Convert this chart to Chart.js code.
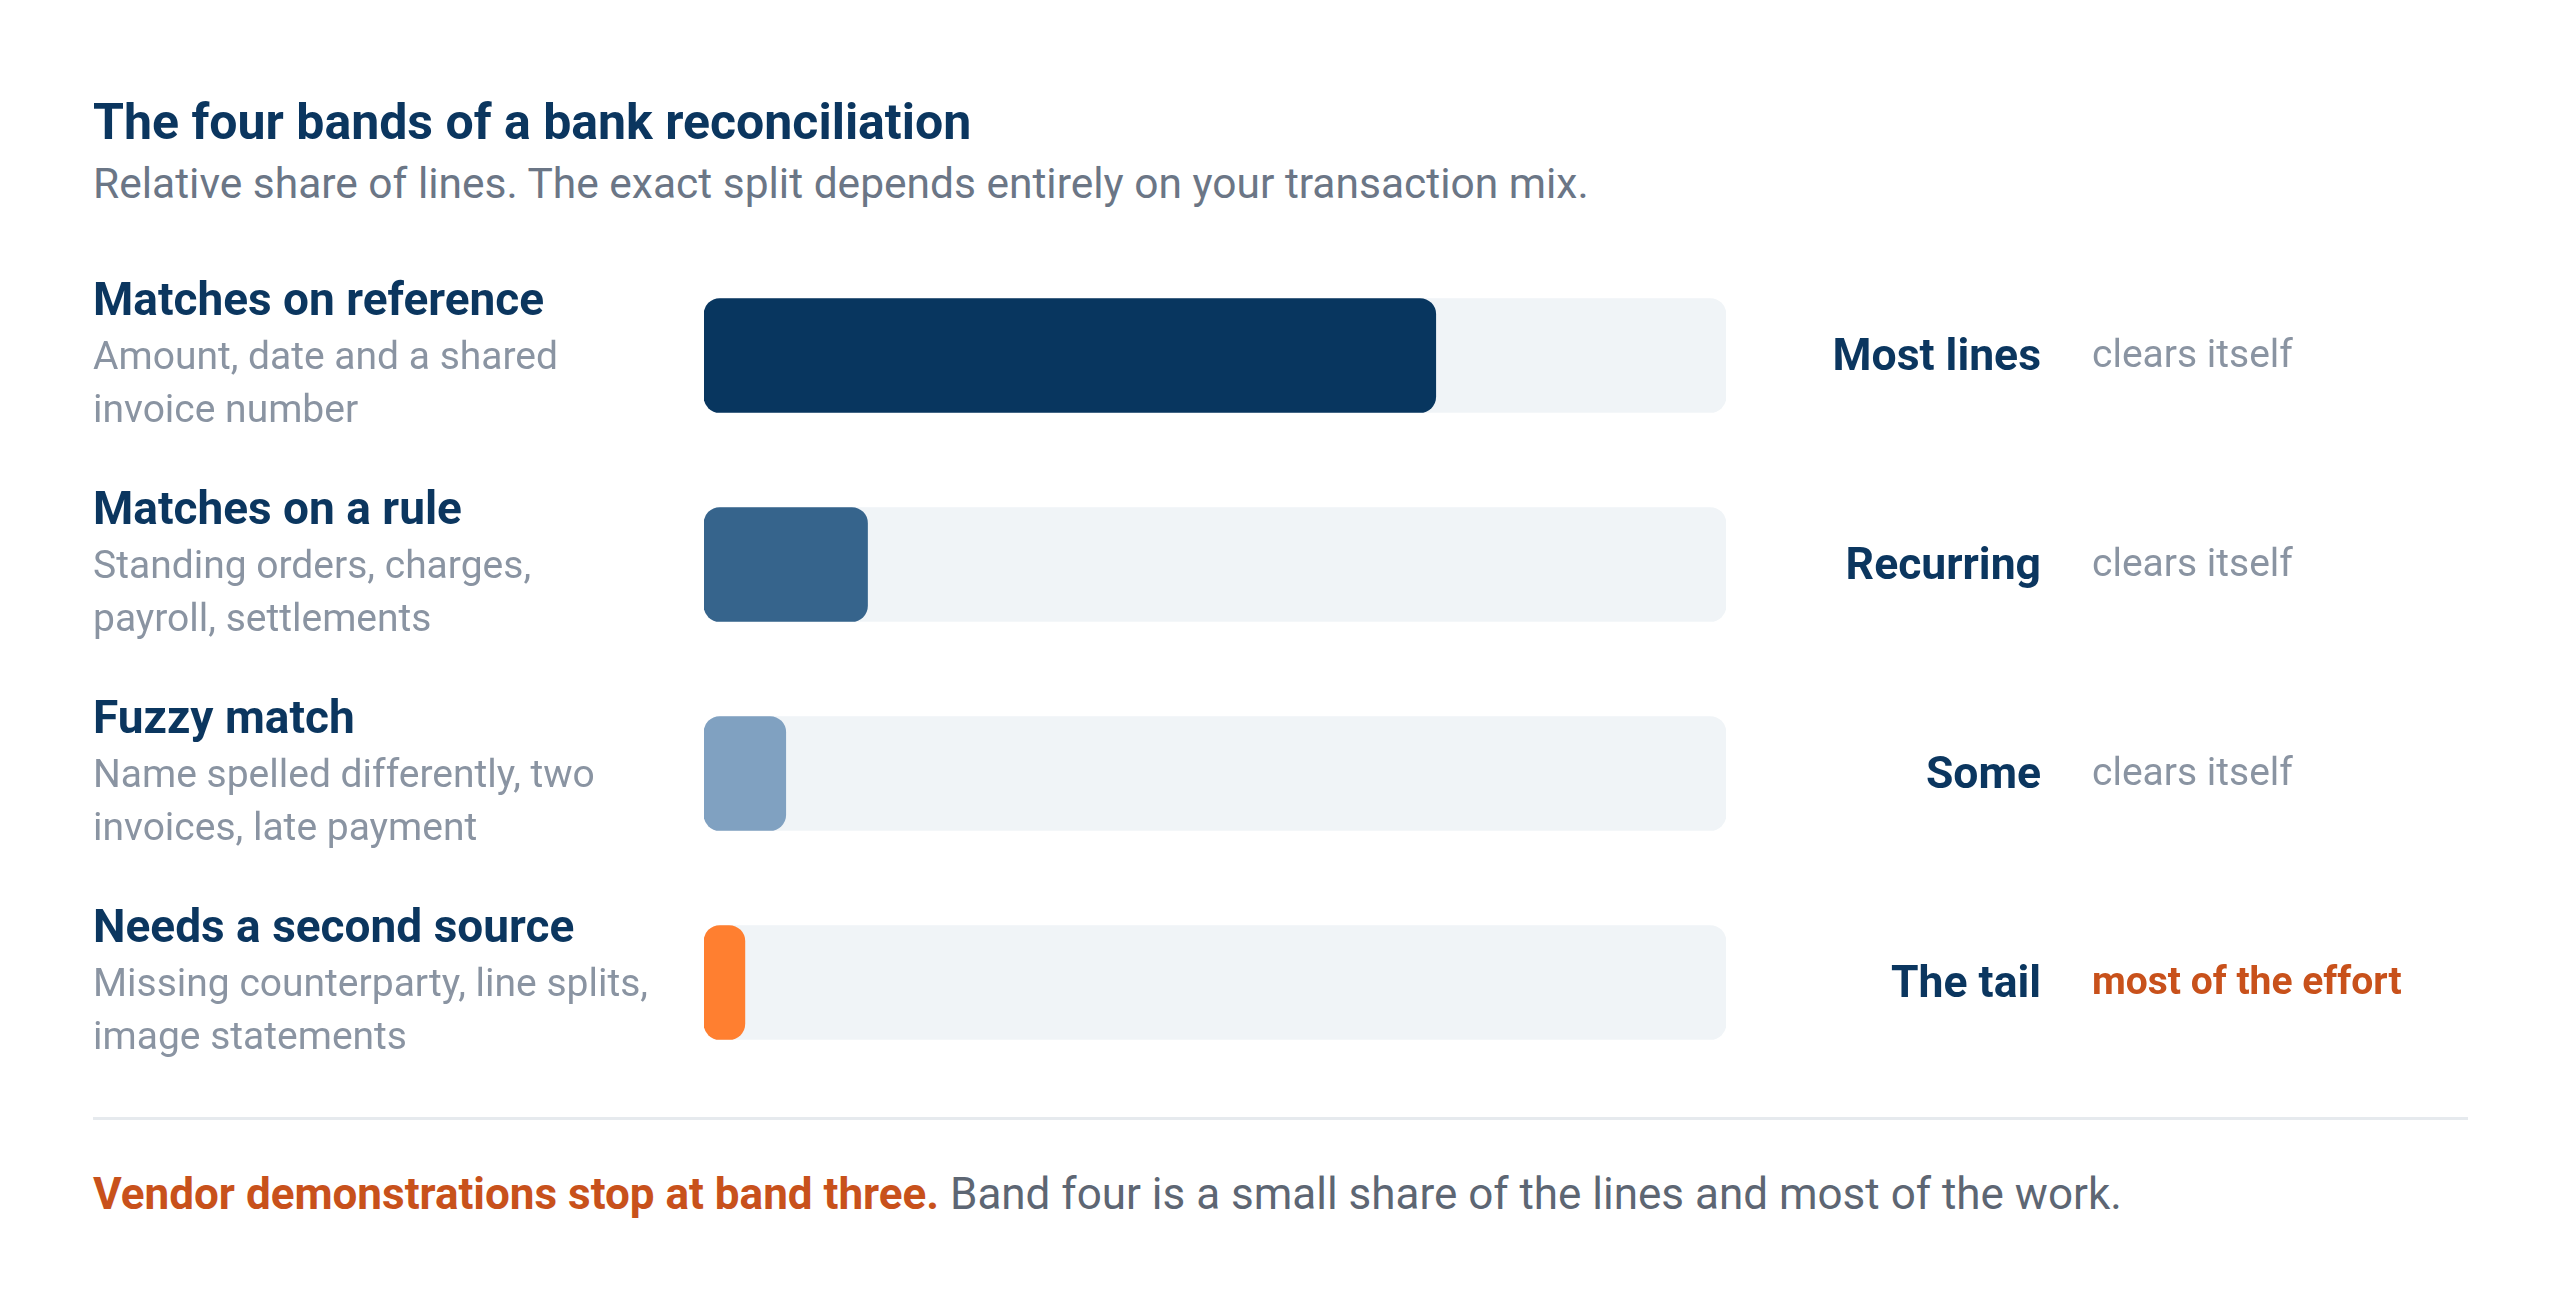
<!DOCTYPE html>
<html><head><meta charset="utf-8">
<script src="https://cdn.jsdelivr.net/npm/chart.js@4"></script>
<style>
html,body{margin:0;padding:0;background:#fff;width:2560px;height:1312px;overflow:hidden;font-family:Roboto,"Noto Sans",sans-serif}
.t{position:absolute;left:93px;white-space:nowrap;line-height:1}
#title{top:97px;font-size:50px;font-weight:700;color:#0b365f}
#sub{top:163px;font-size:42.5px;color:#6b7686}
#rule{position:absolute;left:93px;top:1117px;width:2375px;height:3px;background:#e6eaee}
#foot{top:1172px;font-size:44px;color:#5d6673}
#foot b{color:#c8511b}
#wrap{position:absolute;left:0;top:251px;width:2560px;height:836px}
</style></head><body>
<div class="t" id="title">The four bands of a bank reconciliation</div>
<div class="t" id="sub">Relative share of lines. The exact split depends entirely on your transaction mix.</div>
<div id="wrap"><canvas id="c"></canvas></div>
<div id="rule"></div>
<div class="t" id="foot"><b>Vendor demonstrations stop at band three.</b> Band four is a small share of the lines and most of the work.</div>
<script>
const categories = ["Matches on reference","Matches on a rule","Fuzzy match","Needs a second source"];
const descriptions = [["Amount, date and a shared","invoice number"],["Standing orders, charges,","payroll, settlements"],["Name spelled differently, two","invoices, late payment"],["Missing counterparty, line splits,","image statements"]];
const shares = [71.6,16,8,4];
const trackValues = [100,100,100,100];
const volumeLabels = ["Most lines","Recurring","Some","The tail"];
const effortLabels = ["clears itself","clears itself","clears itself","most of the effort"];
const barColors = ["#08365f","#36648c","#80a1c1","#ff7f30"];

const F = 'Roboto, "Noto Sans", sans-serif';
const textPlugin = {
  id:'rowText',
  afterDatasetsDraw(chart){
    const {ctx, scales:{y}} = chart;
    ctx.save();
    ctx.textBaseline='middle';
    categories.forEach((c,i)=>{
      const yc = y.getPixelForValue(i);
      ctx.textAlign='left';
      ctx.fillStyle='#0b365f'; ctx.font='700 46px '+F;
      ctx.fillText(c,93,yc-52);
      ctx.fillStyle='#8a94a2'; ctx.font='400 39px '+F;
      ctx.fillText(descriptions[i][0],93,yc+4);
      ctx.fillText(descriptions[i][1],93,yc+57);
      ctx.textAlign='right';
      ctx.fillStyle='#0b365f'; ctx.font='700 44.5px '+F;
      ctx.fillText(volumeLabels[i],2041,yc+3);
      ctx.textAlign='left';
      if(i===3){ctx.fillStyle='#c8511b'; ctx.font='700 39px '+F;}
      else {ctx.fillStyle='#8a94a2'; ctx.font='400 39px '+F;}
      ctx.fillText(effortLabels[i],2092,yc+2);
    });
    ctx.restore();
  }
};
new Chart(document.getElementById('c'),{
  type:'bar',
  data:{labels:categories,datasets:[
    {data:shares,backgroundColor:barColors,borderRadius:16,borderSkipped:false,barThickness:114,grouped:false,order:1},
    {data:trackValues,backgroundColor:'#f0f4f7',borderRadius:16,borderSkipped:false,barThickness:114,grouped:false,order:2}
  ]},
  options:{
    indexAxis:'y',responsive:true,maintainAspectRatio:false,animation:false,
    layout:{padding:{left:704,right:834,top:0,bottom:0}},
    plugins:{legend:{display:false},tooltip:{enabled:false}},
    scales:{
      x:{min:0,max:100,display:false},
      y:{display:false}
    }
  },
  plugins:[textPlugin]
});
</script>
</body></html>
